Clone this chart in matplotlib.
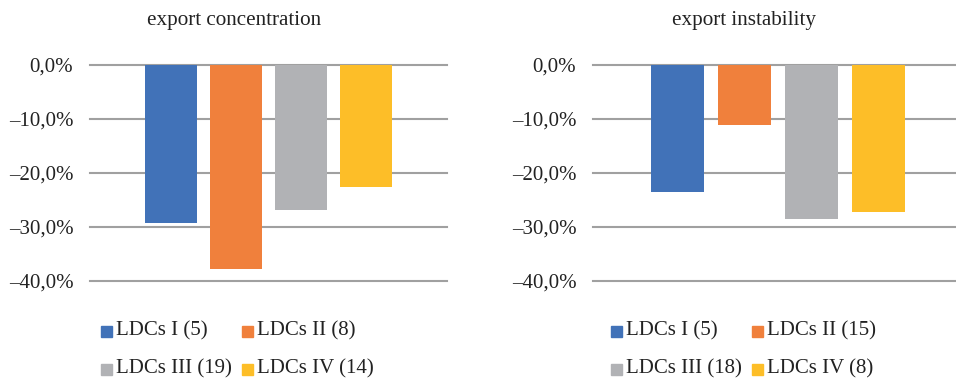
import matplotlib
matplotlib.use("Agg")
import matplotlib.pyplot as plt
from matplotlib.patches import Rectangle

plt.rcParams['font.family'] = ['Liberation Serif', 'DejaVu Serif']

titles = ["export concentration", "export instability"]
labels_conc = ["LDCs I (5)", "LDCs II (8)", "LDCs III (19)", "LDCs IV (14)"]
labels_inst = ["LDCs I (5)", "LDCs II (15)", "LDCs III (18)", "LDCs IV (8)"]
values_conc = [-29.2, -37.8, -26.8, -22.6]
values_inst = [-23.6, -11.2, -28.6, -27.2]
yticks = [0, -10, -20, -30, -40]
colors = ["#4172B8", "#F0803C", "#B1B2B5", "#FDBE28"]

W, H = 956, 379
fig = plt.figure(figsize=(W / 100, H / 100), dpi=100)

def px_axes(x0, x1, y0, y1):
    return fig.add_axes([x0 / W, 1 - y1 / H, (x1 - x0) / W, (y1 - y0) / H])

panels = [
    dict(ax=(90, 447, 65, 281), title_x=234, vals=values_conc, labs=labels_conc,
         bw=52, step=65, leg=[(101, 331), (242, 331), (101, 369), (242, 369)]),
    dict(ax=(593, 963, 65, 281), title_x=744, vals=values_inst, labs=labels_inst,
         bw=53, step=67, leg=[(611, 331), (752, 331), (611, 369), (752, 369)]),
]

for k, p in enumerate(panels):
    x0, x1, y0, y1 = p["ax"]
    ax = px_axes(x0, x1, y0, y1)
    axw = x1 - x0
    bw = p["bw"] / axw
    step = p["step"] / axw
    n = len(p["vals"])
    for i, (v, c) in enumerate(zip(p["vals"], colors)):
        cx = 0.5 + (i - (n - 1) / 2) * step
        ax.bar(cx, v, width=bw, color=c, zorder=3)
    ax.set_xlim(0, 1)
    ax.set_ylim(-40, 0)
    ax.set_yticks(yticks)
    ax.set_yticklabels([f"\u2013{abs(t)},0%" if t < 0 else "0,0%" for t in yticks],
                       fontsize=15, color="#222222")
    ax.tick_params(axis='y', length=0, pad=12)
    ax.set_xticks([])
    for s in ax.spines.values():
        s.set_visible(False)
    for t in yticks:
        ax.axhline(t, color="#A0A0A0", lw=1.5, zorder=1, clip_on=False)
    fig.text(p["title_x"] / W, 1 - 20 / H, titles[k], ha='center', va='center',
             fontsize=15.2, color="#222222")
    for (lx, ly), lab, c in zip(p["leg"], p["labs"], colors):
        fig.patches.append(Rectangle((lx / W, 1 - (ly + 5.5) / H), 11 / W, 11 / H,
                                     transform=fig.transFigure, color=c, figure=fig))
        fig.text((lx + 15) / W, 1 - ly / H, lab, ha='left', va='center', fontsize=15,
                 color="#222222")

fig.savefig("out.png", dpi=100, facecolor="white")
